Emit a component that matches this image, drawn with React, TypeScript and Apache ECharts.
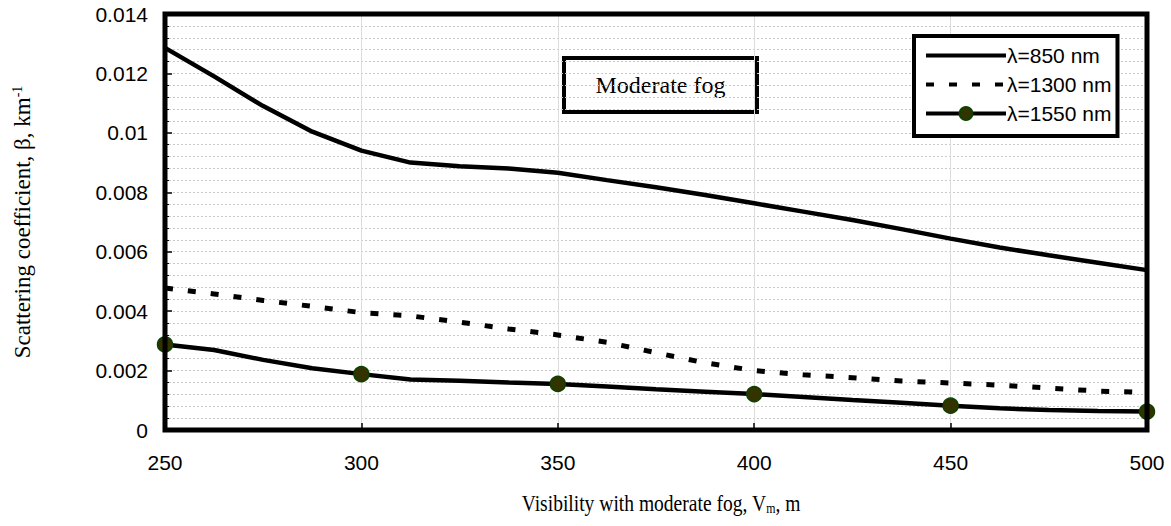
import React, { useEffect, useRef } from "react";
import * as echarts from "echarts";

const visibility = [
  250, 262.5, 275, 287.5, 300, 312.5, 325, 337.5, 350, 362.5, 375, 387.5, 400,
  412.5, 425, 437.5, 450, 462.5, 475, 487.5, 500,
];
const beta850 = [
  0.01286, 0.0119, 0.0109, 0.01004, 0.0094, 0.009, 0.00888, 0.0088, 0.00866,
  0.00841, 0.00817, 0.00791, 0.00763, 0.00735, 0.00707, 0.00676, 0.00644,
  0.00614, 0.00588, 0.00563, 0.00538,
];
const beta1300 = [
  0.00478, 0.00458, 0.00436, 0.00416, 0.00395, 0.00384, 0.00363, 0.0034,
  0.0032, 0.00295, 0.0026, 0.00226, 0.002, 0.00186, 0.00176, 0.00165, 0.00158,
  0.00151, 0.00141, 0.00131, 0.00126,
];
const beta1550 = [
  0.00288, 0.00269, 0.00236, 0.00208, 0.00188, 0.0017, 0.00166, 0.0016,
  0.00155, 0.00146, 0.00137, 0.00129, 0.00121, 0.00111, 0.00101, 0.00092,
  0.00082, 0.00073, 0.00067, 0.00064, 0.00062,
];
const markerVisibility = [250, 300, 350, 400, 450, 500];
const seriesNames = ["λ=850 nm", "λ=1300 nm", "λ=1550 nm"];
const xTitle = "Visibility with moderate fog, V{sub|m}, m";
const yTitle = "Scattering coefficient, β, km{sup|-1}";
const boxLabel = "Moderate fog";
const xRange = [250, 500];
const yRange = [0, 0.014];

export default function App() {
  const ref = useRef<HTMLDivElement>(null);
  useEffect(() => {
    if (!ref.current) return;
    const chart = echarts.init(ref.current, undefined, { renderer: "svg" });
    const pair = (arr: number[]) => visibility.map((v, i) => [v, arr[i]]);
    const markerData = visibility.map((v, i) =>
      markerVisibility.includes(v)
        ? { value: [v, beta1550[i]] }
        : { value: [v, beta1550[i]], symbol: "none" }
    );
    const annotations: any[] = [
      {
        id: "fogBox",
        type: "group",
        left: 562,
        top: 56,
        z: 100,
        children: [
          {
            type: "rect",
            shape: { x: 0, y: 0, width: 193, height: 54 },
            style: { fill: "#fff", stroke: "#000", lineWidth: 4 },
          },
          {
            type: "text",
            x: 96.5,
            y: 27,
            style: {
              text: boxLabel,
              fontFamily: "Liberation Serif",
              fontSize: 24,
              fill: "#000",
              align: "center",
              verticalAlign: "middle",
            },
          },
        ],
      },
      {
        id: "xTitle",
        type: "text",
        x: 661,
        y: 503,
        scaleX: 0.85,
        z: 100,
        style: {
          text: xTitle,
          fontFamily: "Liberation Serif",
          fontSize: 23,
          fill: "#000",
          align: "center",
          verticalAlign: "middle",
          rich: {
            sub: {
              fontFamily: "Liberation Serif",
              fontSize: 14,
              fill: "#000",
              padding: [10, 0, 0, 0],
            },
          },
        },
      },
    ];
    chart.setOption({
      animation: false,
      backgroundColor: "#ffffff",
      grid: {
        left: 165,
        right: 24,
        top: 14,
        bottom: 96,
      },
      xAxis: {
        type: "value",
        min: xRange[0],
        max: xRange[1],
        interval: 50,
        axisLine: { show: false },
        axisTick: { show: true, inside: true, length: 7, lineStyle: { color: "#000", width: 1.5 } },
        axisLabel: {
          fontFamily: "Liberation Sans",
          fontSize: 21,
          color: "#000",
          margin: 22,
        },
        splitLine: { show: true, lineStyle: { color: "#dcdcdc", width: 1 } },
      },
      yAxis: {
        type: "value",
        min: yRange[0],
        max: yRange[1],
        interval: 0.002,
        name: yTitle,
        nameLocation: "middle",
        nameRotate: 90,
        nameGap: 130,
        nameTextStyle: {
          fontFamily: "Liberation Serif",
          fontSize: 23,
          color: "#000",
          rich: {
            sup: {
              fontFamily: "Liberation Serif",
              fontSize: 14,
              color: "#000",
              padding: [0, 0, 11, 0],
            },
          },
        },
        axisLine: { show: false },
        axisTick: { show: true, inside: true, length: 7, lineStyle: { color: "#000", width: 1.5 } },
        minorTick: { show: true, splitNumber: 5, length: 4, lineStyle: { color: "#000", width: 1 } },
        axisLabel: {
          fontFamily: "Liberation Sans",
          fontSize: 21,
          color: "#000",
          margin: 17,
        },
        splitLine: { show: true, lineStyle: { color: "#c8c8c8", width: 1, type: [2, 2] } },
        minorSplitLine: { show: true, lineStyle: { color: "#c8c8c8", width: 1, type: [2, 2] } },
      },
      legend: {
        left: 914,
        top: 36,
        orient: "vertical",
        data: [
          { name: seriesNames[0], itemStyle: { opacity: 0 } },
          { name: seriesNames[1], itemStyle: { opacity: 0 } },
          { name: seriesNames[2] },
        ],
        backgroundColor: "#fff",
        borderColor: "#000",
        borderWidth: 4,
        borderRadius: 0,
        padding: [9, 6, 12, 10],
        itemWidth: 80,
        itemHeight: 16,
        itemGap: 8,
        lineStyle: { width: 4 },
        textStyle: { fontFamily: "Liberation Sans", fontSize: 21, color: "#000", padding: [0, 0, 0, -4] },
      },
      graphic: annotations,
      series: [
        {
          name: seriesNames[0],
          type: "line",
          data: pair(beta850),
          symbol: "none",
          lineStyle: { color: "#000", width: 4.5 },
          itemStyle: { color: "#000" },
        },
        {
          name: seriesNames[1],
          type: "line",
          data: pair(beta1300),
          symbol: "none",
          lineStyle: { color: "#000", width: 5, type: [8, 15] },
          itemStyle: { color: "#000" },
        },
        {
          name: seriesNames[2],
          type: "line",
          data: markerData,
          symbol: "circle",
          symbolSize: 15,
          showAllSymbol: true,
          lineStyle: { color: "#000", width: 4.5 },
          itemStyle: { color: "#333300", borderColor: "#0d4200", borderWidth: 1.5 },
        },
      ],
    });
    const p0 = chart.convertToPixel({ gridIndex: 0 }, [xRange[0], yRange[1]]) as number[];
    const p1 = chart.convertToPixel({ gridIndex: 0 }, [xRange[1], yRange[0]]) as number[];
    chart.setOption({
      graphic: [
        ...annotations,
        {
          id: "frame",
          type: "rect",
          z: 50,
          silent: true,
          shape: { x: p0[0], y: p0[1], width: p1[0] - p0[0], height: p1[1] - p0[1] },
          style: { fill: "none", stroke: "#000", lineWidth: 5 },
        },
      ],
    });
    return () => chart.dispose();
  }, []);
  return (
    <div
      ref={ref}
      style={{ position: "fixed", left: 0, top: 0, width: 1171, height: 526, background: "#fff" }}
    />
  );
}
